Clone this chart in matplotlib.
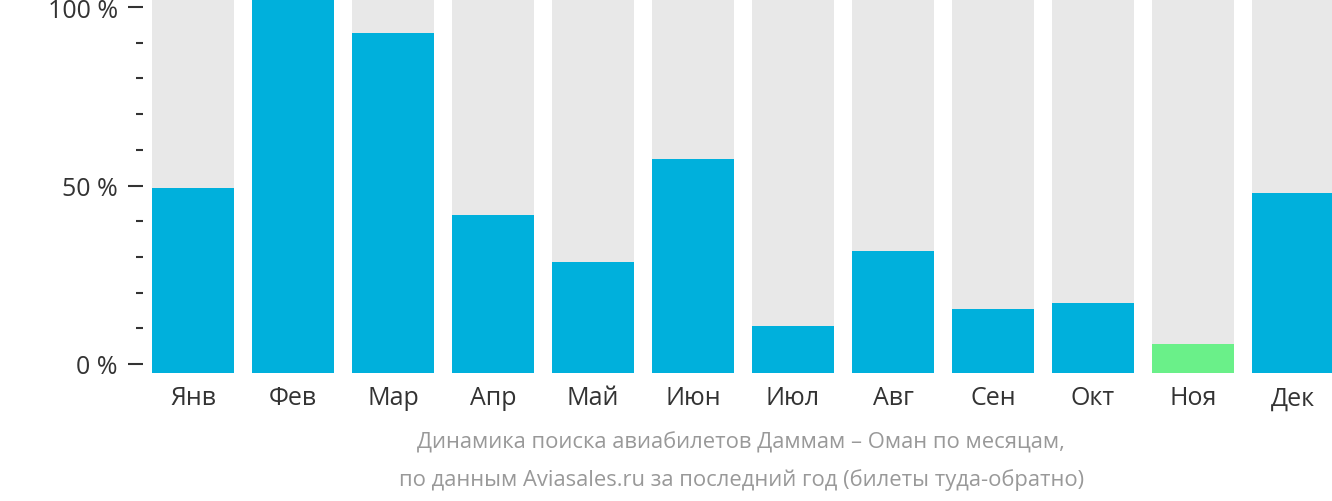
import matplotlib
matplotlib.use('Agg')
import matplotlib.pyplot as plt

plt.rcParams['font.family'] = ['Open Sans', 'DejaVu Sans']

months = ['Янв', 'Фев', 'Мар', 'Апр', 'Май', 'Июн', 'Июл', 'Авг', 'Сен', 'Окт', 'Ноя', 'Дек']
values = [49.4, 102.2, 92.7, 41.6, 28.7, 57.3, 10.7, 31.7, 15.4, 17.1, 5.6, 47.8]
lowest = 'Ноя'

y_bottom = -2.53
y_top = 102.25

fig = plt.figure(figsize=(13.32, 5.02), dpi=100)
ax = fig.add_axes([143 / 1332, (502 - 374) / 502, 1200 / 1332, 374 / 502])

x = range(len(months))
colors = ['#6af089' if m == lowest else '#00b0dc' for m in months]

# серый фон под каждым столбиком
ax.bar(x, [y_top - y_bottom] * len(months), bottom=y_bottom, width=0.82, color='#e8e8e8')
ax.bar(x, [v - y_bottom for v in values], bottom=y_bottom, width=0.82, color=colors)

ax.set_xlim(-0.5, 11.5)
ax.set_ylim(y_bottom, y_top)

for s in ax.spines.values():
    s.set_visible(False)

ax.set_xticks(list(x))
ax.set_xticklabels(months, fontsize=18, color='#333333')
ax.tick_params(axis='x', length=0, pad=9)

ax.set_yticks([0, 50, 100])
ax.set_yticklabels(['0 %', '50 %', '100 %'], fontsize=18, color='#333333')
ax.set_yticks([10, 20, 30, 40, 60, 70, 80, 90], minor=True)
ax.tick_params(axis='y', which='major', length=11, width=1.5, color='#333333', pad=7)
ax.tick_params(axis='y', which='minor', length=5, width=1.5, color='#333333')

fig.text(741 / 1332, 1 - 443 / 502, 'Динамика поиска авиабилетов Даммам – Оман по месяцам,',
         ha='center', va='center', fontsize=15.8, color='#999999')
fig.text(742 / 1332, 1 - 480 / 502, 'по данным Aviasales.ru за последний год (билеты туда-обратно)',
         ha='center', va='center', fontsize=15.8, color='#999999')

fig.savefig('out.png', dpi=100)
